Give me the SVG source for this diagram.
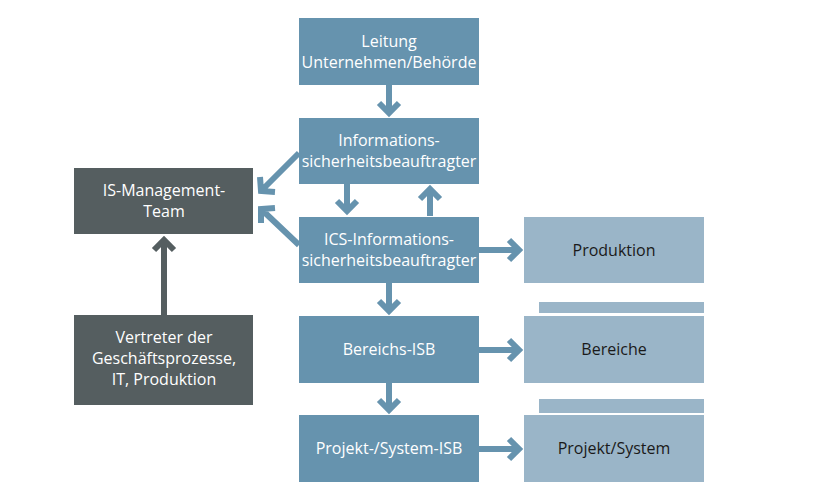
<svg xmlns="http://www.w3.org/2000/svg" width="829" height="495" viewBox="0 0 829 495">
<style>
.b{fill:#6693ae}
.d{fill:#555e60}
.l{fill:#9ab5c8}
text{font-family:"Open Sans","Noto Sans",sans-serif;font-size:16px;text-anchor:middle}
.w{fill:#ffffff}
.k{fill:#1a1a1a}
.ab{stroke:#6693ae;stroke-width:6;fill:none;stroke-linejoin:miter;stroke-miterlimit:10}
.ad{stroke:#555e60;stroke-width:6;fill:none;stroke-linejoin:miter;stroke-miterlimit:10}
</style>
<rect width="829" height="495" fill="#ffffff"/>
<g id="connectors">
<path class="ab" d="M389 85V113M379 103L389 113L399 103"/>
<path class="ab" d="M347 184V211M337 201L347 211L357 201"/>
<path class="ab" d="M430 216V189M420 199L430 189L440 199"/>
<path class="ab" d="M389 283V311M379 301L389 311L399 301"/>
<path class="ab" d="M389 383V410M379 400L389 410L399 400"/>
<path class="ab" d="M479 250H519M509 240L519 250L509 260"/>
<path class="ab" d="M479 350H519M509 340L519 350L509 360"/>
<path class="ab" d="M479 449H519M509 439L519 449L509 459"/>
<path class="ab" d="M299 153L261 191M260 177L261 191L275 192"/>
<path class="ab" d="M299 245L261 209M261 223L261 209L275 208"/>
<path class="ad" d="M164 315V240M154 250L164 240L174 250"/>
</g>
<g id="leitung"><rect class="b" x="299" y="18" width="180" height="67"/>
<text class="w" x="389" y="47">Leitung</text><text class="w" x="389" y="68">Unternehmen/Behörde</text></g>
<g id="isb"><rect class="b" x="299" y="118" width="180" height="66"/>
<text class="w" x="389" y="146">Informations-</text><text class="w" x="389" y="167">sicherheitsbeauftragter</text></g>
<g id="ics"><rect class="b" x="299" y="217" width="180" height="66"/>
<text class="w" x="389" y="245">ICS-Informations-</text><text class="w" x="389" y="266">sicherheitsbeauftragter</text></g>
<g id="bereichsisb"><rect class="b" x="299" y="316" width="180" height="67"/>
<text class="w" x="389" y="355">Bereichs-ISB</text></g>
<g id="projektisb"><rect class="b" x="299" y="415" width="180" height="67"/>
<text class="w" x="389" y="454">Projekt-/System-ISB</text></g>
<g id="ismt"><rect class="d" x="74" y="168" width="179" height="66"/>
<text class="w" x="164" y="196">IS-Management-</text><text class="w" x="164" y="217">Team</text></g>
<g id="vertreter"><rect class="d" x="74" y="315" width="179" height="90"/>
<text class="w" x="164" y="343">Vertreter der</text><text class="w" x="164" y="364">Geschäftsprozesse,</text><text class="w" x="164" y="385">IT, Produktion</text></g>
<g id="produktion"><rect class="l" x="524" y="217" width="180" height="66"/>
<text class="k" x="614" y="256">Produktion</text></g>
<g id="bereiche"><rect class="l" x="539" y="302" width="165" height="11"/><rect class="l" x="524" y="316" width="180" height="67"/>
<text class="k" x="614" y="355">Bereiche</text></g>
<g id="projekt"><rect class="l" x="539" y="399" width="165" height="14"/><rect class="l" x="524" y="415" width="180" height="67"/>
<text class="k" x="614" y="454">Projekt/System</text></g>
</svg>
